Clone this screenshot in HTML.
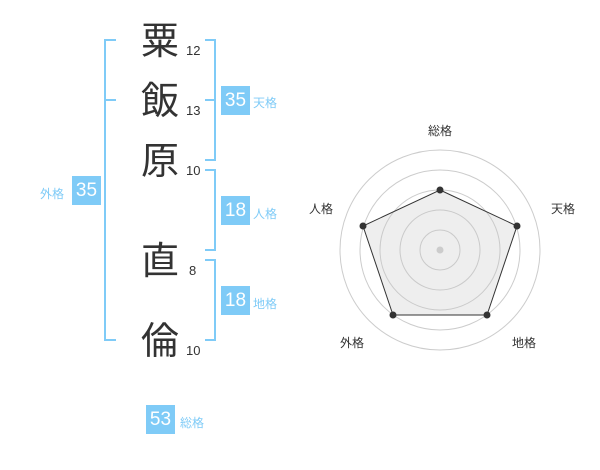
<!DOCTYPE html>
<html><head><meta charset="utf-8"><style>
body{margin:0;width:600px;height:470px;background:#fff;overflow:hidden;font-family:"Liberation Sans","Noto Sans CJK JP",sans-serif;}
.a{position:absolute}
.k{position:absolute;font-size:38px;color:#333;width:44px;text-align:center;line-height:44px;left:138px}
.n{position:absolute;font-size:13px;color:#333;left:186px}
.b{position:absolute;background:#7fcbf7;color:#fff;font-size:19px;width:29px;height:29px;line-height:29px;text-align:center}
.l{position:absolute;color:#7fcbf7;font-size:12px}
</style></head><body>
<svg class="a" style="left:0;top:0" width="600" height="470">
<g stroke="#7fcbf7" stroke-width="2" fill="none">
<path d="M116 40H105V340H116M105 100H116"/>
<path d="M205 40H215V160H205M215 100H205"/>
<path d="M205 170H215V250H205"/>
<path d="M205 260H215V340H205"/>
</g>
<g fill="none" stroke="#ccc" stroke-width="1">
<circle cx="440" cy="250" r="20"/><circle cx="440" cy="250" r="40"/><circle cx="440" cy="250" r="60"/><circle cx="440" cy="250" r="80"/><circle cx="440" cy="250" r="100"/>
</g>
<polygon points="440,190 517,226 487,315 393,315 363,226" fill="rgba(200,200,200,0.3)" stroke="#333" stroke-width="1"/>
<g fill="#333"><circle cx="440" cy="190" r="3.5"/><circle cx="517" cy="226" r="3.5"/><circle cx="487" cy="315" r="3.5"/><circle cx="393" cy="315" r="3.5"/><circle cx="363" cy="226" r="3.5"/></g>
<circle cx="440" cy="250" r="3.5" fill="#ccc"/>
<g font-size="12" fill="#333" text-anchor="middle" font-family="Liberation Sans,Noto Sans CJK JP,sans-serif">
<text x="440" y="135">総格</text><text x="563" y="213">天格</text><text x="321" y="213">人格</text><text x="352" y="347">外格</text><text x="524" y="347">地格</text>
</g>
</svg>
<div class="k" style="top:20px">粟</div><div class="n" style="top:43px">12</div>
<div class="k" style="top:80px">飯</div><div class="n" style="top:103px">13</div>
<div class="k" style="top:140px">原</div><div class="n" style="top:163px">10</div>
<div class="k" style="top:240px">直</div><div class="n" style="top:263px;left:189px">8</div>
<div class="k" style="top:320px">倫</div><div class="n" style="top:343px">10</div>
<div class="b" style="left:221px;top:86px">35</div><div class="l" style="left:253px;top:94px">天格</div>
<div class="b" style="left:221px;top:196px">18</div><div class="l" style="left:253px;top:205px">人格</div>
<div class="b" style="left:221px;top:286px">18</div><div class="l" style="left:253px;top:295px">地格</div>
<div class="b" style="left:72px;top:176px">35</div><div class="l" style="left:40px;top:185px">外格</div>
<div class="b" style="left:146px;top:405px">53</div><div class="l" style="left:180px;top:414px">総格</div>
</body></html>
